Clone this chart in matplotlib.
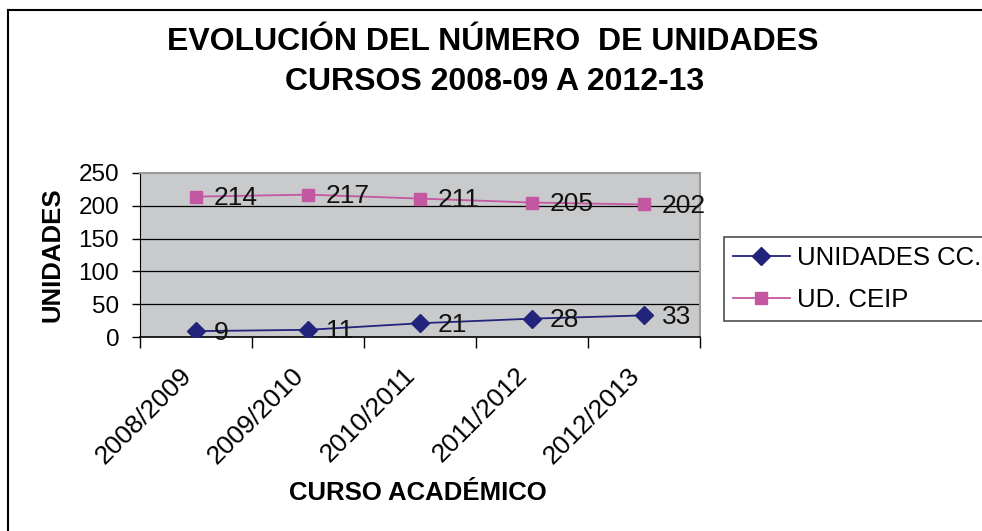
import matplotlib.pyplot as plt
from matplotlib.lines import Line2D
from matplotlib.transforms import ScaledTranslation

cursos = ['2008/2009', '2009/2010', '2010/2011', '2011/2012', '2012/2013']
unidades_cc = [9, 11, 21, 28, 33]
ud_ceip = [214, 217, 211, 205, 202]
y_ticks = [0, 50, 100, 150, 200, 250]

navy = '#22237A'
pink = '#C457A2'

plt.rcParams['font.family'] = ['Liberation Sans', 'DejaVu Sans']

fig = plt.figure(figsize=(9.82, 5.31), dpi=100)
ax = fig.add_axes([0.1426, 0.3653, 0.5703, 0.3089])
ax.set_facecolor('#C9CACC')

x = list(range(len(cursos)))
ax.plot(x, unidades_cc, color=navy, lw=1.3, marker='D', ms=9,
        mfc=navy, mec=navy, label='UNIDADES CC.', zorder=3)
ax.plot(x, ud_ceip, color=pink, lw=1.3, marker='s', ms=8,
        mfc=pink, mec=pink, label='UD. CEIP', zorder=3)

# etiquetas de datos
for xi, v in zip(x, unidades_cc):
    ax.annotate(str(v), (xi, v), xytext=(13, -1), textcoords='offset points',
                ha='left', va='center', fontsize=19, color='#111111', zorder=4)
for xi, v in zip(x, ud_ceip):
    ax.annotate(str(v), (xi, v), xytext=(13, -1), textcoords='offset points',
                ha='left', va='center', fontsize=19, color='#111111', zorder=4)

ax.set_xlim(-0.5, len(cursos) - 0.5)
ax.set_ylim(0, 250)
ax.set_yticks(y_ticks)
ax.set_yticklabels([str(t) for t in y_ticks], fontsize=17.5)
for t in y_ticks[1:-1]:
    ax.axhline(t, color='black', lw=0.9, zorder=1)

# ticks en los limites de categoria, etiquetas en el centro
ax.set_xticks([i - 0.5 for i in range(len(cursos) + 1)])
ax.set_xticklabels([])
ax.set_xticks(x, minor=True)
ax.set_xticklabels(cursos, minor=True, rotation=45, ha='right', va='center',
                   rotation_mode='anchor', fontsize=19)
ax.tick_params(axis='x', which='major', length=8, width=1, direction='out')
ax.tick_params(axis='x', which='minor', length=0, pad=25)
ax.tick_params(axis='y', length=6, width=1, direction='out', pad=9)
shift = ScaledTranslation(-6 / 72, 0, fig.dpi_scale_trans)
for lbl in ax.get_xticklabels(minor=True):
    lbl.set_transform(lbl.get_transform() + shift)

for s in ['top', 'right']:
    ax.spines[s].set_color('#9A9A9A')
    ax.spines[s].set_linewidth(1.5)
ax.spines['left'].set_color('black')
ax.spines['bottom'].set_color('black')
ax.spines['bottom'].set_linewidth(1.2)

ax.set_ylabel('UNIDADES', fontsize=18.5, fontweight='bold', labelpad=10)
fig.text(0.4257, 0.0716, 'CURSO ACADÉMICO', ha='center', va='center',
         fontsize=18.5, fontweight='bold')

fig.text(0.502, 0.92, 'EVOLUCIÓN DEL NÚMERO  DE UNIDADES', ha='center',
         va='center', fontsize=23, fontweight='bold')
fig.text(0.504, 0.845, 'CURSOS 2008-09 A 2012-13', ha='center',
         va='center', fontsize=23, fontweight='bold')

leg = ax.legend(loc='upper left', bbox_to_anchor=(0.7373, 0.3974, 0.28, 0.1563),
                bbox_transform=fig.transFigure, mode='expand', fontsize=18.5,
                frameon=True, fancybox=False, handlelength=2.2,
                borderaxespad=0, borderpad=0.35, labelspacing=0.72,
                handletextpad=0.3)
leg.get_frame().set_edgecolor('#222222')
leg.get_frame().set_linewidth(1.2)

# marco exterior del grafico
fig.add_artist(Line2D([0.0081, 0.0081], [0.0, 0.981], color='black', lw=1.5,
                      transform=fig.transFigure))
fig.add_artist(Line2D([0.0081, 1.0], [0.981, 0.981], color='black', lw=1.5,
                      transform=fig.transFigure))

fig.savefig('out.png', dpi=100)
